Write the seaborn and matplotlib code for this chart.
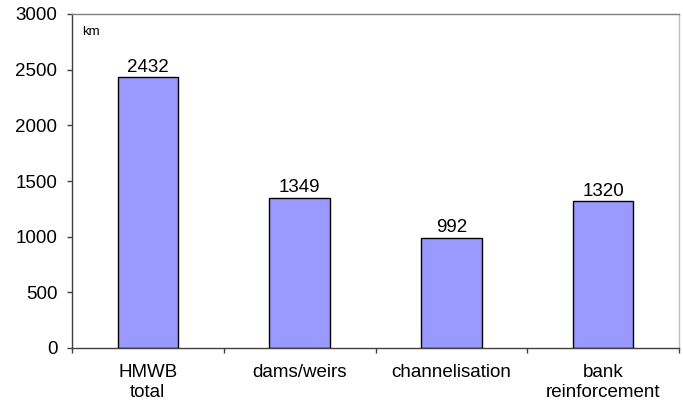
import numpy as np
import pandas as pd
import matplotlib
matplotlib.use("Agg")
import matplotlib.pyplot as plt
import seaborn as sns

# data
categories = ["HMWB\ntotal", "dams/weirs", "channelisation", "bank\nreinforcement"]
lengths_km = [2432, 1349, 992, 1320]
y_ticks = [0, 500, 1000, 1500, 2000, 2500, 3000]

df = pd.DataFrame({"category": categories, "km": lengths_km})

sns.set_style("white")
plt.rcParams['font.family'] = ['Liberation Sans', 'DejaVu Sans']
plt.rcParams['text.color'] = 'black'
plt.rcParams['xtick.color'] = 'black'
plt.rcParams['ytick.color'] = 'black'

fig = plt.figure(figsize=(6.83, 4.05), dpi=100)
ax = fig.add_axes([72 / 683, 1 - 348 / 405, (679 - 72) / 683, (348 - 14) / 405])

sns.barplot(data=df, x="category", y="km", color="#9999FF", saturation=1,
            edgecolor="black", linewidth=1.0, width=0.4, ax=ax)

# value labels above bars
for i, v in enumerate(lengths_km):
    ax.annotate(str(v), (i, v), xytext=(0, 1), textcoords="offset points",
                ha="center", va="bottom", fontsize=13.5)

ax.text(0.016, 0.965, "km", transform=ax.transAxes, fontsize=9.5, va="top")

ax.set_xlim(-0.5, len(categories) - 0.5)
ax.set_ylim(0, 3000)
ax.set_yticks(y_ticks)
ax.set_xlabel("")
ax.set_ylabel("")

# x ticks at category borders
ax.set_xticks(np.arange(-0.5, len(categories), 1.0), minor=True)
ax.tick_params(axis="x", which="major", length=0, labelsize=13.5, pad=11.5)
ax.tick_params(axis="x", which="minor", length=3.6, width=1, color="#404040", direction="out", bottom=True)
ax.tick_params(axis="y", length=3.6, width=1, color="#404040", direction="out", labelsize=13.5, pad=7, left=True)

for lbl in ax.get_xticklabels():
    lbl.set_linespacing(1.2)

ax.spines["left"].set_color("#404040")
ax.spines["bottom"].set_color("#404040")
ax.spines["top"].set_color("#808080")
ax.spines["right"].set_color("#c0c0c0")
for s in ax.spines.values():
    s.set_linewidth(1.0)

fig.savefig("out.png", dpi=100)
